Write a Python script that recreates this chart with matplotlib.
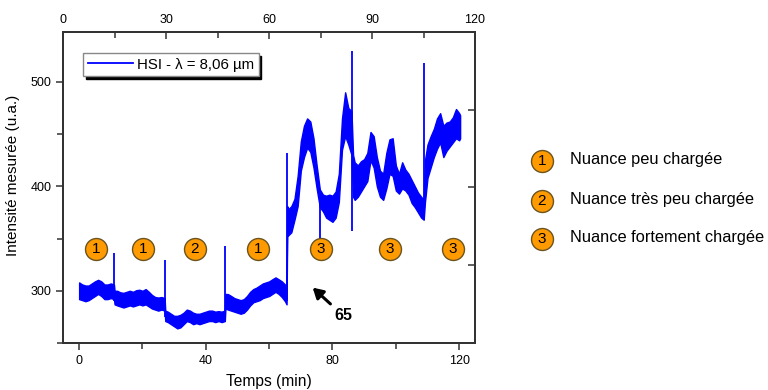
import matplotlib
matplotlib.use("Agg")
import matplotlib.pyplot as plt
from matplotlib.lines import Line2D
from matplotlib.ticker import MultipleLocator, NullFormatter

plt.rcParams['font.family'] = ['Liberation Sans', 'DejaVu Sans']

# ---- data : envelope of the noisy signal ----
t_env = [0, 1, 2, 3, 4, 5, 6, 7, 8, 9, 10, 11,
         11.2, 12, 13, 14, 15, 16, 17, 18, 19, 20, 21, 22, 23, 24, 25, 26, 27,
         27.2, 28, 29, 30, 31, 32, 33, 34, 35, 36, 37, 38, 39, 40, 41, 42, 43, 44, 45, 46,
         46.2, 47, 48, 49, 50, 51, 52, 53, 54, 55, 56, 57, 58, 59, 60, 61, 62, 63, 64, 65, 65.5,
         65.7, 66, 67, 68, 69, 70, 71, 72, 73, 74, 75, 76, 77, 78, 79, 80, 81, 82, 83, 84, 85, 86,
         86.5, 87, 88, 89, 90, 91, 92, 93, 94, 95, 96, 97, 98, 99, 100, 101, 102, 103, 104, 105,
         106, 107, 108, 108.8,
         109.2, 110, 111, 112, 113, 114, 115, 116, 117, 118, 119, 120, 120.3]
lo_env = [292, 291, 290, 291, 293, 295, 297, 295, 292, 292, 293, 292,
          287, 286, 285, 284, 285, 286, 285, 286, 287, 286, 287, 285, 283, 282, 281, 282, 281,
          271, 270, 268, 266, 264, 265, 268, 271, 270, 268, 269, 268, 269, 270, 271, 271, 270, 271, 270, 271,
          283, 282, 281, 280, 279, 278, 279, 282, 286, 289, 290, 291, 293, 294, 295, 297, 299, 297, 294, 290, 287,
          355, 353, 356, 368, 381, 415, 428, 437, 433, 418, 398, 380, 376, 370, 368, 366, 370, 385, 435, 448, 440, 430,
          390, 387, 390, 395, 400, 405, 425, 418, 400, 390, 387, 398, 412, 410, 396, 393, 398, 396, 392, 384,
          380, 375, 370, 368,
          385, 408, 418, 428, 436, 442, 428, 434, 438, 442, 446, 444, 446]
hi_env = [308, 306, 305, 305, 307, 309, 310.5, 309, 306, 306, 307, 306,
          300, 300, 298.5, 298, 299, 300, 299, 300.5, 301, 300, 301.6, 299, 296, 294, 293.5, 294, 293,
          281, 280, 278, 276, 276, 277, 279, 282, 281, 279, 278, 278, 279, 280, 281, 281, 280, 280.5, 280, 281,
          297, 296.8, 295, 293, 292, 291, 292, 295, 299, 301.6, 303, 305, 307, 308, 309, 311, 312.8, 311, 309, 306, 300,
          381, 378, 381, 388, 410, 443, 458, 465, 462, 446, 420, 397, 392, 391, 392, 391, 395, 412, 465, 490, 475, 472,
          430, 423, 420, 424, 426, 432, 452, 448, 428, 415, 412, 432, 445, 446, 420, 412, 423, 416, 412, 406,
          400, 394, 390, 387,
          425, 440, 448, 455, 465, 470, 458, 461, 462, 466, 474, 470, 468]

# isolated spikes (time, low, high)
spike_t = [11.1, 27.1, 46.0, 65.6, 76.0, 86.3, 108.9]
spike_lo = [290, 275, 275, 290, 350, 357, 368]
spike_hi = [336, 329, 343, 432, 385, 530, 518]

# numbered markers on the chart
mark_t = [5.3, 20.1, 36.5, 56.4, 76.3, 98.1, 118.0]
mark_v = [340, 340, 340, 340, 340, 340, 340]
mark_lbl = ['1', '1', '2', '1', '3', '3', '3']

key_lbl = ['1', '2', '3']
key_txt = ['Nuance peu chargée', 'Nuance très peu chargée', 'Nuance fortement chargée']

BLUE = '#0000FF'
ORANGE = '#FF9A00'
EDGE = '#6b5420'

fig = plt.figure(figsize=(7.68, 3.9), dpi=100)
ax = fig.add_axes([0.0824, 0.1205, 0.5361, 0.7982])

ax.fill_between(t_env, lo_env, hi_env, color=BLUE, lw=1.0, edgecolor=BLUE, zorder=3)
ax.vlines(spike_t, spike_lo, spike_hi, color=BLUE, lw=1.3, zorder=3)

ax.set_xlim(-5, 125)
ax.set_ylim(250, 548)

ax.xaxis.set_major_locator(MultipleLocator(40))
ax.xaxis.set_minor_locator(MultipleLocator(20))
ax.yaxis.set_major_locator(MultipleLocator(100))
ax.yaxis.set_minor_locator(MultipleLocator(50))
ax.tick_params(which='both', direction='out', labelsize=9, color='#333333', width=1.1)
ax.tick_params(which='major', length=5)
ax.tick_params(which='minor', length=4)

for s in ax.spines.values():
    s.set_linewidth(1.3)
    s.set_color('#333333')

ax.set_xlabel('Temps (min)', fontsize=11.2, labelpad=5)
ax.set_ylabel('Intensité mesurée (u.a.)', fontsize=11)
ax.yaxis.set_label_coords(-0.105, 0.54)

# top axis
axt = ax.twiny()
axt.set_xlim(0, 120)
axt.xaxis.set_major_locator(MultipleLocator(30))
axt.xaxis.set_minor_locator(MultipleLocator(15))
axt.tick_params(which='both', direction='in', labelsize=9, color='#333333', width=1.1, pad=4)
axt.tick_params(which='major', length=5)
axt.tick_params(which='minor', length=4)

# right axis (ticks only)
axr = ax.twinx()
axr.set_ylim(0, 4)
axr.yaxis.set_major_locator(MultipleLocator(1))
axr.yaxis.set_major_formatter(NullFormatter())
axr.tick_params(which='both', direction='in', length=5, color='#333333', width=1.1)
for a in (axt, axr):
    for s in a.spines.values():
        s.set_linewidth(1.3)
        s.set_color('#333333')

# numbered circles on the chart
ax.scatter(mark_t, mark_v, s=250, c=ORANGE, edgecolors=EDGE, linewidths=1.0, zorder=5)
for t, v, l in zip(mark_t, mark_v, mark_lbl):
    ax.text(t, v, l, ha='center', va='center', fontsize=11, zorder=6)

# arrow with 65
ax.annotate('', xy=(73.1, 304.8), xytext=(80.0, 285.6),
            arrowprops=dict(arrowstyle='-|>,head_length=0.6,head_width=0.35', color='black', lw=2.2))
ax.text(83.4, 276, '65', ha='center', va='center', fontsize=11.5, fontweight='bold')

# legend in the plot
h = Line2D([], [], color=BLUE, lw=1.3)
leg = ax.legend([h], ['HSI - λ = 8,06 µm'], loc='upper left', bbox_to_anchor=(0.048, 0.931),
                fontsize=10.8, frameon=True, fancybox=False, handlelength=3.0,
                shadow={'facecolor': 'black', 'edgecolor': 'black', 'alpha': 1},
                borderpad=0.3, handletextpad=0.3, borderaxespad=0)
leg.get_frame().set_edgecolor('#888888')
leg.get_frame().set_linewidth(1.0)

# key on the right (figure coordinates)
key_y = [1 - 161.0 / 390, 1 - 201.0 / 390, 1 - 239.0 / 390]
keyax = fig.add_axes([0, 0, 1, 1], facecolor='none')
keyax.set_xlim(0, 1)
keyax.set_ylim(0, 1)
keyax.axis('off')
keyax.scatter([542.0 / 768] * 3, key_y, s=250, c=ORANGE, edgecolors=EDGE, linewidths=1.0)
for y, l, txt in zip(key_y, key_lbl, key_txt):
    keyax.text(542.0 / 768, y, l, ha='center', va='center', fontsize=11)
    keyax.text(570.0 / 768, y + 0.004, txt, ha='left', va='center', fontsize=11.8)

fig.savefig('out.png', dpi=100)
